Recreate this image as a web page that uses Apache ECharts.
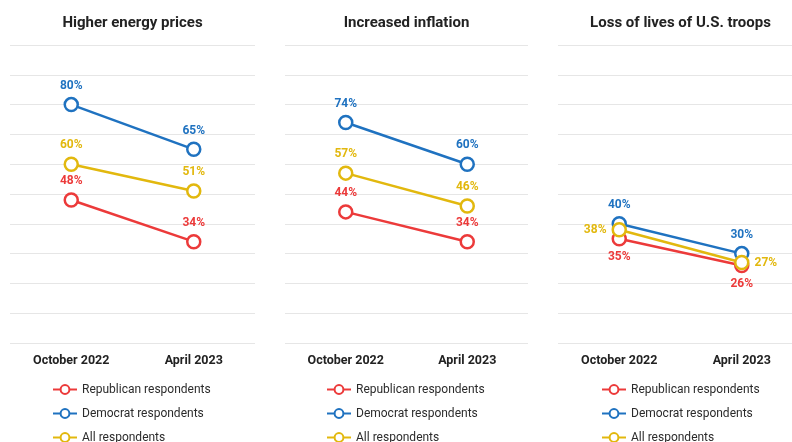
<!DOCTYPE html>
<html>
<head>
<meta charset="utf-8">
<script src="https://cdn.jsdelivr.net/npm/echarts@6/dist/echarts.min.js"></script>
<style>
html,body{margin:0;padding:0;background:#fff;}
#chart{width:792px;height:442px;}
</style>
</head>
<body>
<div id="chart"></div>
<script>
// ---- Data ----
const categories = ['October 2022', 'April 2023'];
const panelTitles = ['Higher energy prices', 'Increased inflation', 'Loss of lives of U.S. troops'];
const seriesNames = ['Republican respondents', 'Democrat respondents', 'All respondents'];
const energyRep = [48, 34];
const energyDem = [80, 65];
const energyAll = [60, 51];
const inflationRep = [44, 34];
const inflationDem = [74, 60];
const inflationAll = [57, 46];
const troopsRep = [35, 26];
const troopsDem = [40, 30];
const troopsAll = [38, 27];

// ---- Styling / layout ----
const colors = ['#ec3a3a', '#1f72c0', '#e2b80e'];
const panelData = [
  [energyRep, energyDem, energyAll],
  [inflationRep, inflationDem, inflationAll],
  [troopsRep, troopsDem, troopsAll]
];
const grids = [
  { left: 10, width: 245 },
  { left: 285, width: 243 },
  { left: 558, width: 245 }
];
const legendLefts = [52, 326, 601];
// label positions per panel / series / point
const labelPos = [
  [['top','top'], ['top','top'], ['top','top']],
  [['top','top'], ['top','top'], ['top','top']],
  [['bottom','bottom'], ['top','top'], ['left','right']]
];

const font = 'Roboto, "Liberation Sans", Arial, sans-serif';
const option = {
  backgroundColor: '#ffffff',
  animation: false,
  title: [], grid: [], xAxis: [], yAxis: [], legend: [], series: []
};

grids.forEach((g, p) => {
  option.grid.push({ left: g.left, width: g.width, top: 45, bottom: 99, containLabel: false, outerBoundsMode: 'none' });
  option.title.push({
    text: panelTitles[p],
    left: g.left + g.width / 2,
    textAlign: 'center',
    top: 16, padding: 0,
    textStyle: { fontFamily: font, fontSize: 15, fontWeight: 'bold', color: '#222' }
  });
  option.xAxis.push({
    type: 'category', gridIndex: p, data: categories, boundaryGap: true,
    axisLine: { show: false }, axisTick: { show: false },
    axisLabel: { margin: 11, fontFamily: font, fontSize: 12.5, fontWeight: 'bold', color: '#222' }
  });
  option.yAxis.push({
    type: 'value', gridIndex: p, min: 0, max: 100, interval: 10,
    axisLabel: { show: false }, axisLine: { show: false }, axisTick: { show: false },
    splitLine: { lineStyle: { color: '#e6e6e6', width: 1 } }
  });
  option.legend.push({
    orient: 'vertical', left: legendLefts[p], top: 383.5, height: 80, padding: 0,
    itemWidth: 24, itemHeight: 11, itemGap: 12,
    data: seriesNames.map((n, i) => ({ name: n, itemStyle: { color: '#fff', borderColor: colors[i], borderWidth: 2 } })),
    textStyle: { fontFamily: font, fontSize: 12, color: '#2b2b2b' }
  });
  seriesNames.forEach((name, s) => {
    option.series.push({
      type: 'line', name: name, xAxisIndex: p, yAxisIndex: p,
      data: panelData[p][s].map((v, k) => ({
        value: v,
        label: { position: labelPos[p][s][k] }
      })),
      symbol: 'circle', symbolSize: 13,
      lineStyle: { color: colors[s], width: 2.5 },
      itemStyle: { color: '#ffffff', borderColor: colors[s], borderWidth: 2.5 },
      label: {
        show: true, distance: 5, formatter: '{c}%',
        fontFamily: font, fontSize: 12, fontWeight: 'bold', color: colors[s]
      },
      emphasis: { disabled: true }
    });
  });
});

const chart = echarts.init(document.getElementById('chart'), null, { renderer: 'canvas' });
chart.setOption(option);
</script>
</body>
</html>
